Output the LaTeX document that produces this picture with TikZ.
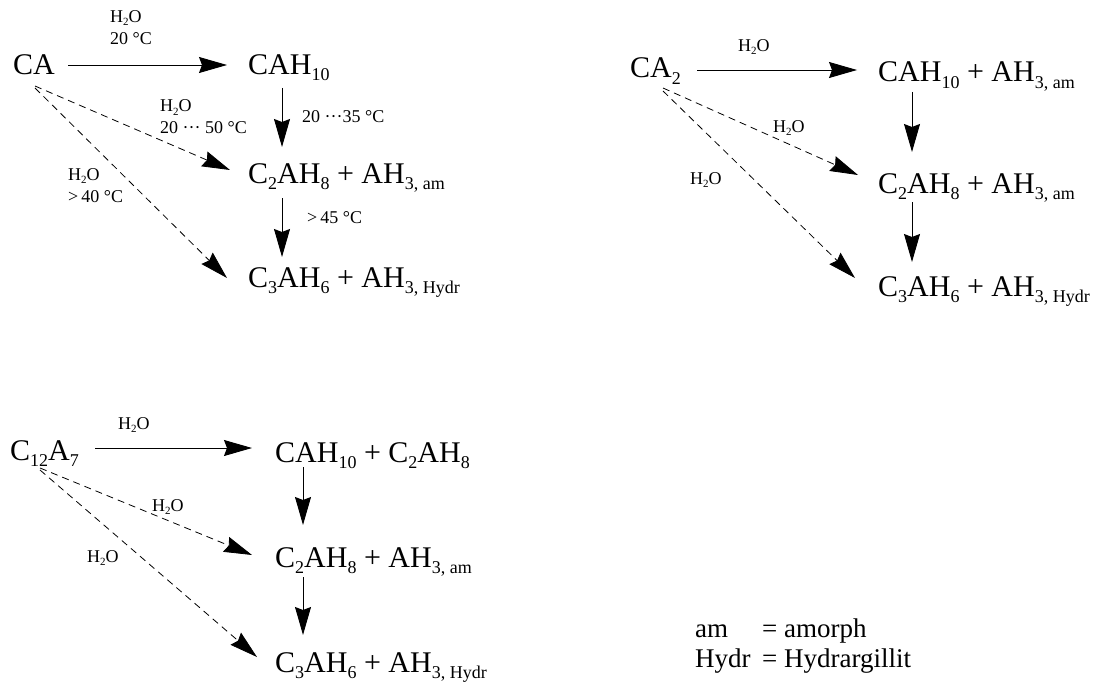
\documentclass[tikz,border=0pt]{standalone}
\usepackage{fontspec}
\setmainfont{Liberation Serif}
\usetikzlibrary{arrows.meta}
\newcommand{\subs}[1]{\raisebox{-6pt}{\fontsize{18pt}{18pt}\selectfont #1}}
\newcommand{\ssub}[1]{\raisebox{-3pt}{\fontsize{11pt}{11pt}\selectfont #1}}
\newcommand{\water}{H\ssub{2}O}
\tikzset{
  chem/.style={anchor=base west, inner sep=0pt, font=\fontsize{30pt}{36pt}\selectfont},
  lbl/.style={anchor=base west, inner sep=0pt, font=\fontsize{18pt}{22pt}\selectfont},
  leg/.style={anchor=base west, inner sep=0pt, font=\fontsize{27pt}{32pt}\selectfont},
  arr/.style={line width=0.9pt, -{Stealth[length=28pt,width=16pt,inset=3pt]}},
  darr/.style={arr, line width=0.8pt, dash pattern=on 7pt off 5pt},
}
\begin{document}
\begin{tikzpicture}[x=1pt,y=1pt]
\useasboundingbox (0,0) rectangle (1099,-682);
% ---------- panel 1 ----------
\node[chem] (ca)   at (13,-75)  {CA};
\node[chem] (cah1) at (248,-75) {CAH\subs{10}};
\node[chem] (c2a1) at (248,-183) {C\subs{2}AH\subs{8} + AH\subs{3, am}};
\node[chem] (c3a1) at (248,-287) {C\subs{3}AH\subs{6} + AH\subs{3, Hydr}};
\node[lbl] (t1) at (110,-23) {\water};
\node[lbl] (t2) at (110,-45) {20 °C};
\node[lbl] (t3) at (160,-112) {\water};
\node[lbl] (t4) at (160,-133) {20 ··· 50 °C};
\node[lbl] (t5) at (302,-122) {20 ···35 °C};
\node[lbl] (t6) at (68,-180) {\water};
\node[lbl] (t7) at (68,-202) {>\,40 °C};
\node[lbl] (t8) at (307,-223) {>\,45 °C};
\draw[arr] ([shift={(55pt,10pt)}]ca.base west) -- ([shift={(-21pt,10pt)}]cah1.base west);
\draw[arr] ([shift={(34pt,-13pt)}]cah1.base west) -- ([shift={(34pt,36pt)}]c2a1.base west);
\draw[arr] ([shift={(34pt,-15pt)}]c2a1.base west) -- ([shift={(34pt,30pt)}]c3a1.base west);
\draw[darr] ([shift={(22pt,-11pt)}]ca.base west) -- ([shift={(-18pt,13pt)}]c2a1.base west);
\draw[darr] ([shift={(22pt,-13pt)}]ca.base west) -- ([shift={(-21pt,9pt)}]c3a1.base west);
% ---------- panel 2 ----------
\node[chem] (ca2)  at (630,-78) {CA\subs{2}};
\node[chem] (cah2) at (878,-82) {CAH\subs{10} + AH\subs{3, am}};
\node[chem] (c2a2) at (878,-193) {C\subs{2}AH\subs{8} + AH\subs{3, am}};
\node[chem] (c3a2) at (878,-296) {C\subs{3}AH\subs{6} + AH\subs{3, Hydr}};
\node[lbl] (u1) at (738,-52) {\water};
\node[lbl] (u2) at (773,-132) {\water};
\node[lbl] (u3) at (690,-184) {\water};
\draw[arr] ([shift={(67pt,8pt)}]ca2.base west) -- ([shift={(-21pt,12pt)}]cah2.base west);
\draw[arr] ([shift={(34pt,-10pt)}]cah2.base west) -- ([shift={(34pt,41pt)}]c2a2.base west);
\draw[arr] ([shift={(34pt,-9pt)}]c2a2.base west) -- ([shift={(34pt,34pt)}]c3a2.base west);
\draw[darr] ([shift={(33pt,-10pt)}]ca2.base west) -- ([shift={(-20pt,18pt)}]c2a2.base west);
\draw[darr] ([shift={(33pt,-13pt)}]ca2.base west) -- ([shift={(-23pt,18pt)}]c3a2.base west);
% ---------- panel 3 ----------
\node[chem] (c12)  at (10,-460) {C\subs{12}A\subs{7}};
\node[chem] (cah3) at (275,-462) {CAH\subs{10} + C\subs{2}AH\subs{8}};
\node[chem] (c2a3) at (275,-567) {C\subs{2}AH\subs{8} + AH\subs{3, am}};
\node[chem] (c3a3) at (275,-672) {C\subs{3}AH\subs{6} + AH\subs{3, Hydr}};
\node[lbl] (v1) at (118,-429) {\water};
\node[lbl] (v2) at (152,-511) {\water};
\node[lbl] (v3) at (87,-562) {\water};
\draw[arr] ([shift={(85pt,12pt)}]c12.base west) -- ([shift={(-23pt,14pt)}]cah3.base west);
\draw[arr] ([shift={(28pt,-5pt)}]cah3.base west) -- ([shift={(28pt,42pt)}]c2a3.base west);
\draw[arr] ([shift={(28pt,-10pt)}]c2a3.base west) -- ([shift={(28pt,37pt)}]c3a3.base west);
\draw[darr] ([shift={(30pt,-8pt)}]c12.base west) -- ([shift={(-23pt,12pt)}]c2a3.base west);
\draw[darr] ([shift={(30pt,-10pt)}]c12.base west) -- ([shift={(-18pt,15pt)}]c3a3.base west);
% ---------- legend ----------
\node[leg] (k1) at (695,-637) {am};
\node[leg] (k2) at (762,-637) {= amorph};
\node[leg] (k3) at (695,-667) {Hydr};
\node[leg] (k4) at (762,-667) {= Hydrargillit};
\end{tikzpicture}
\end{document}
